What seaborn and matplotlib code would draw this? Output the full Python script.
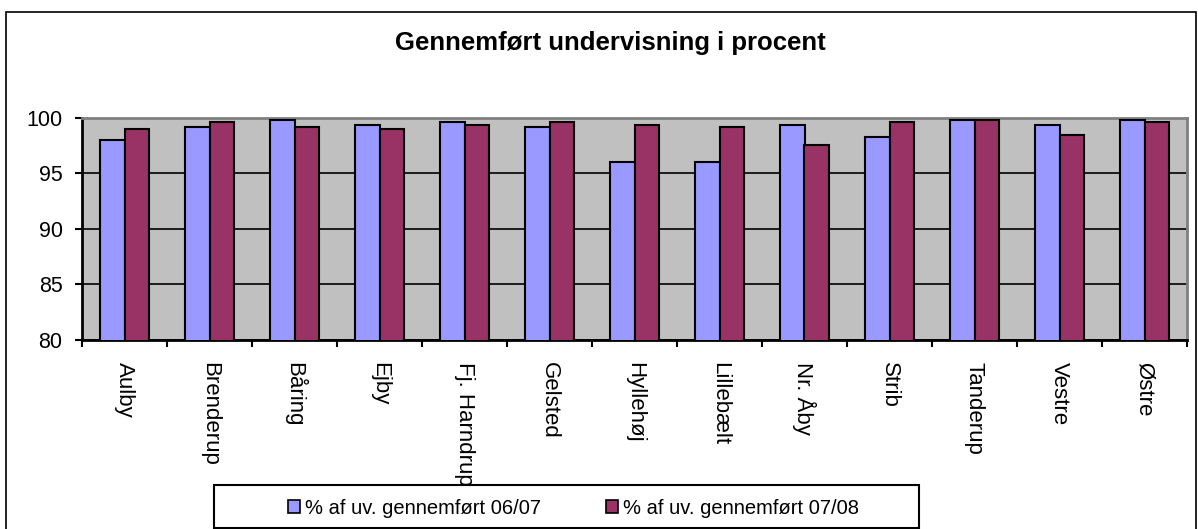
import pandas as pd
import matplotlib.pyplot as plt
import seaborn as sns
from matplotlib.patches import Patch, Rectangle

skoler = ["Aulby", "Brenderup", "Båring", "Ejby", "Fj. Harndrup", "Gelsted",
          "Hyllehøj", "Lillebælt", "Nr. Åby", "Strib", "Tanderup", "Vestre", "Østre"]
pct_0607 = [98.0, 99.2, 99.8, 99.4, 99.6, 99.2, 96.0, 96.0, 99.4, 98.3, 99.8, 99.4, 99.8]
pct_0708 = [99.0, 99.6, 99.2, 99.0, 99.4, 99.6, 99.4, 99.2, 97.6, 99.6, 99.8, 98.5, 99.6]
serier = ["% af uv. gennemført 06/07", "% af uv. gennemført 07/08"]
farver = ["#9999FF", "#993366"]

df = pd.DataFrame({
    "skole": skoler * 2,
    "pct": pct_0607 + pct_0708,
    "serie": [serier[0]] * len(skoler) + [serier[1]] * len(skoler),
})

sns.set_style("white")
plt.rcParams["font.family"] = ["Liberation Sans", "DejaVu Sans"]
plt.rcParams["text.color"] = "black"
plt.rcParams["xtick.color"] = "black"
plt.rcParams["ytick.color"] = "black"

fig = plt.figure(figsize=(11.98, 5.29), dpi=100)
ax = fig.add_axes([82 / 1198, 1 - 340 / 529, (1187 - 82) / 1198, 222 / 529])
ax.set_facecolor("#C0C0C0")

sns.barplot(data=df, x="skole", y="pct", hue="serie", palette=farver,
            width=0.565, edgecolor="black", linewidth=1.5, saturation=1,
            legend=False, ax=ax, zorder=3)

ax.set_ylim(80, 100)
ax.set_xlim(-0.5, len(skoler) - 0.5)
ax.set_yticks([80, 85, 90, 95, 100])
ax.yaxis.grid(True, color="black", linewidth=1.2, zorder=1)
ax.set_axisbelow(True)
ax.set_xlabel("")
ax.set_ylabel("")

# labels at category centres, tick marks at category edges
ax.set_xticks(range(len(skoler)))
ax.set_xticklabels(skoler, rotation=270, ha="center", va="top", fontsize=16)
ax.tick_params(axis="x", which="major", length=0, pad=16, labelcolor="black")
ax.set_xticks([i - 0.5 for i in range(len(skoler) + 1)], minor=True)
ax.tick_params(axis="x", which="minor", bottom=True, length=5, width=1.5,
               color="black", direction="out")
ax.tick_params(axis="y", length=5, width=1.5, color="black", direction="out",
               labelsize=15.5, pad=9, left=True, labelcolor="black")

for side in ["left", "bottom"]:
    ax.spines[side].set_color("black")
    ax.spines[side].set_linewidth(2)
for side in ["top", "right"]:
    ax.spines[side].set_color("#808080")
    ax.spines[side].set_linewidth(2)

fig.text(610 / 1198, 1 - 43 / 529, "Gennemført undervisning i procent",
         ha="center", va="center", fontsize=18.5, fontweight="bold")

# outer chart border and legend box
fig.patches.append(Rectangle((6 / 1198, -0.05), 1190 / 1198, 1.05 - 12 / 529,
                             transform=fig.transFigure, fill=False,
                             edgecolor="black", linewidth=1.2))
fig.patches.append(Rectangle((214 / 1198, 1 - 528 / 529), 705 / 1198, 43 / 529,
                             transform=fig.transFigure, facecolor="white",
                             edgecolor="black", linewidth=1.5, zorder=4))

handles = [Patch(facecolor=c, edgecolor="black", linewidth=1.2) for c in farver]
leg = fig.legend(handles, serier, ncol=2, loc="center left",
                 bbox_to_anchor=(288 / 1198, 1 - 508 / 529),
                 bbox_transform=fig.transFigure, frameon=False, fontsize=14.5,
                 handlelength=0.6, handleheight=0.6, handletextpad=0.25,
                 columnspacing=3.2, borderaxespad=0, borderpad=0)
leg.set_zorder(5)

fig.savefig("out.png", dpi=100)
plt.close(fig)
